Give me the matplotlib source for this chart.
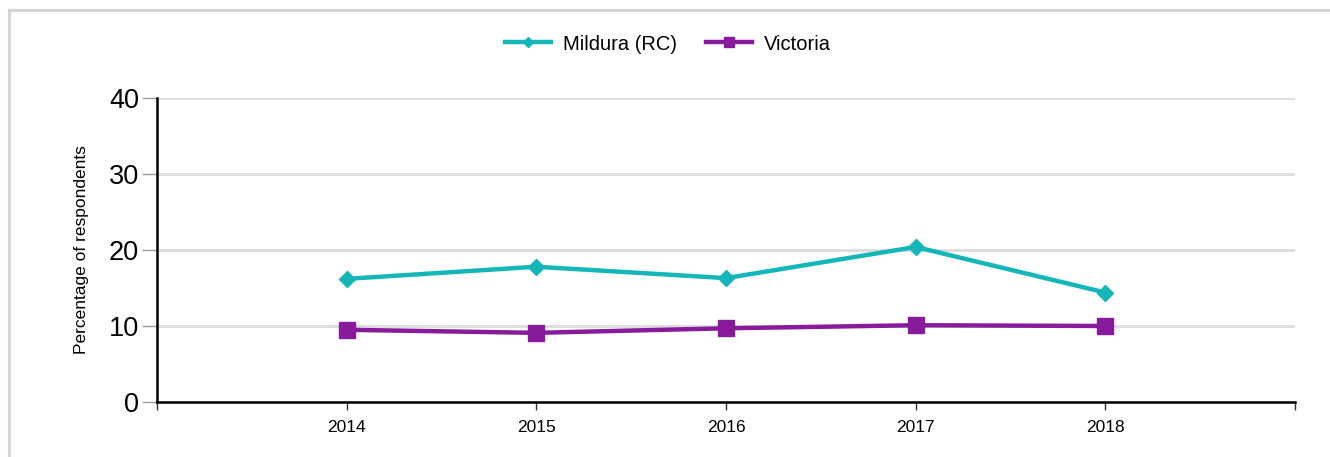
import matplotlib.pyplot as plt
from matplotlib.lines import Line2D

plt.rcParams['font.family'] = ['Liberation Sans', 'DejaVu Sans']

years = [2014, 2015, 2016, 2017, 2018]
mildura = [16.2, 17.8, 16.3, 20.4, 14.4]
victoria = [9.5, 9.1, 9.7, 10.1, 10.0]
yticks = [0, 10, 20, 30, 40]

teal = '#14b6b9'
purple = '#871b9b'

fig = plt.figure(figsize=(13.3, 4.57), dpi=100)
# light frame around the chart: only top and left edges fall inside the image
top = 1 - 10 / 457
left = 9 / 1330
fig.add_artist(Line2D([left, 1], [top, top], transform=fig.transFigure, color='#d4d4d4', lw=2.2))
fig.add_artist(Line2D([left, left], [0, top], transform=fig.transFigure, color='#d4d4d4', lw=2.2))

ax = fig.add_axes([157 / 1330, 1 - 402 / 457, (1295 - 157) / 1330, (402 - 98) / 457])

ax.plot(years, mildura, color=teal, lw=3.2, marker='D', ms=8, label='Mildura (RC)', zorder=3)
ax.plot(years, victoria, color=purple, lw=3.2, marker='s', ms=11, label='Victoria', zorder=3)

ax.set_xlim(2013, 2019)
ax.set_ylim(0, 40)
ax.set_yticks(yticks)
ax.set_yticklabels([str(v) for v in yticks], fontsize=19.5)
xt = list(range(2013, 2020))
ax.set_xticks(xt)
ax.set_xticklabels([str(y) if y in years else '' for y in xt], fontsize=12.5)
ax.tick_params(axis='y', length=11, width=1, color='#999999', pad=2)
ax.tick_params(axis='x', length=6, width=1, color='#333333', pad=7)

for v in yticks[1:]:
    ax.axhline(v, color='#dcdcdc', lw=2, zorder=1)

for s in ['top', 'right']:
    ax.spines[s].set_visible(False)
ax.spines['left'].set_linewidth(1.8)
ax.spines['bottom'].set_linewidth(1.8)
ax.spines['left'].set_zorder(4)
ax.spines['bottom'].set_zorder(4)

ax.set_ylabel('Percentage of respondents', fontsize=12.5, labelpad=14)

ax.legend(loc='center', bbox_to_anchor=(668 / 1330, 1 - 44 / 457), bbox_transform=fig.transFigure,
          ncol=2, frameon=False, fontsize=14.5, markerscale=0.7, handlelength=2.3,
          handletextpad=0.6, columnspacing=1.4, borderaxespad=0)

plt.savefig('out.png', dpi=100)
